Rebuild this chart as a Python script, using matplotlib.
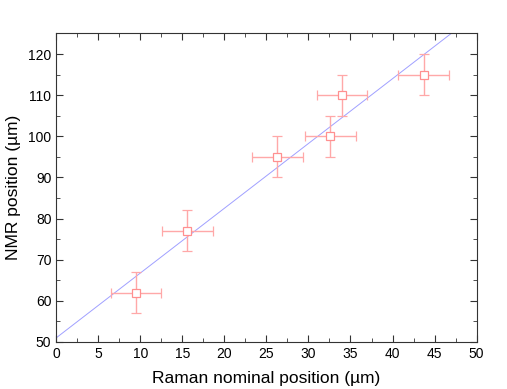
import matplotlib
matplotlib.use("Agg")
from matplotlib import pyplot as plt
from matplotlib.ticker import MultipleLocator
import numpy as np

plt.rcParams['font.family'] = ['Liberation Sans', 'DejaVu Sans']

# data
raman = [9.5, 15.6, 26.3, 32.6, 34.0, 43.7]
nmr = [62, 77, 95, 100, 110, 115]
raman_err = [3, 3, 3, 3, 3, 3]
nmr_err = [5, 5, 5, 5, 5, 5]

# fitted line
fit_intercept = 51.0
fit_slope = 1.575

fig = plt.figure(figsize=(5.07, 3.89), dpi=100)
ax = fig.add_axes([0.111, 0.121, 0.829, 0.793])

xs = np.array([0, 50])
ax.plot(xs, fit_intercept + fit_slope * xs, color='#a0a0ff', lw=0.7, zorder=1)

ax.errorbar(raman, nmr, xerr=raman_err, yerr=nmr_err, fmt='s', ms=6,
            mfc='white', mec='#ff9090', mew=0.9, ecolor='#ffa8a8',
            elinewidth=1.0, capsize=3.5, capthick=1.0, zorder=2)

ax.set_xlim(0, 50)
ax.set_ylim(50, 125)
ax.xaxis.set_major_locator(MultipleLocator(5))
ax.xaxis.set_minor_locator(MultipleLocator(2.5))
ax.yaxis.set_major_locator(MultipleLocator(10))
ax.yaxis.set_minor_locator(MultipleLocator(5))
ax.tick_params(which='both', direction='in', top=True, right=True,
               labelsize=10, color='#333333')
ax.tick_params(which='major', length=5)
ax.tick_params(which='minor', length=3)
for s in ax.spines.values():
    s.set_color('#333333')

ax.set_xlabel('Raman nominal position (µm)', fontsize=12.5, labelpad=7)
ax.set_ylabel('NMR position (µm)', fontsize=12.5, labelpad=5)

fig.savefig('out.png', dpi=100)
